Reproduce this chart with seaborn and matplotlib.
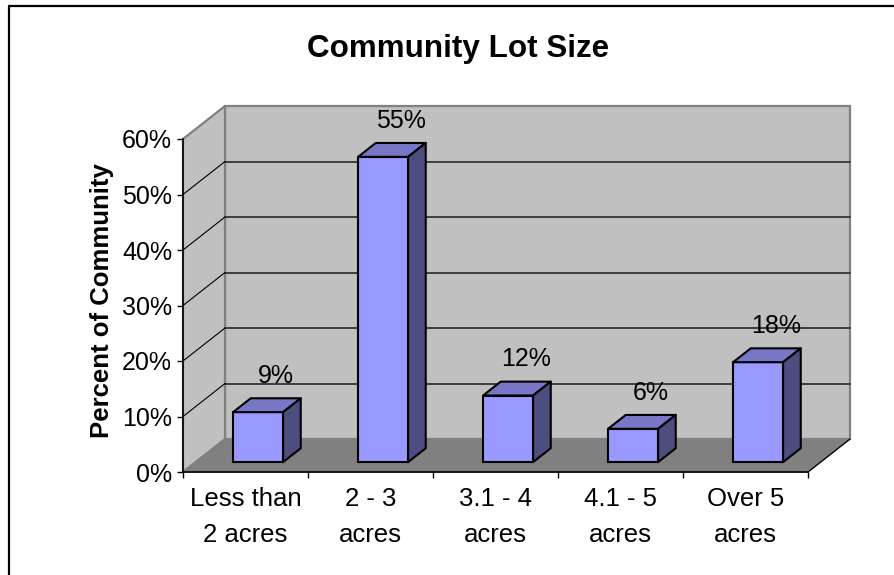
import matplotlib
matplotlib.use("Agg")
import matplotlib.pyplot as plt
import matplotlib.transforms as mtransforms
from matplotlib.patches import Polygon
from matplotlib.lines import Line2D
from matplotlib.ticker import FixedLocator
import seaborn as sns
import pandas as pd

# ---------------- data ----------------
categories = ["Less than\n2 acres", "2 - 3\nacres", "3.1 - 4\nacres", "4.1 - 5\nacres", "Over 5\nacres"]
values = [9, 55, 12, 6, 18]
value_labels = ["9%", "55%", "12%", "6%", "18%"]
yticks = [0, 10, 20, 30, 40, 50, 60]
ytick_labels = ["0%", "10%", "20%", "30%", "40%", "50%", "60%"]
title = "Community Lot Size"
ylabel = "Percent of Community"

# ---------------- style ----------------
sns.set_style("white")
plt.rcParams["font.family"] = ["Liberation Sans", "DejaVu Sans"]
plt.rcParams["text.color"] = "black"

FRONT = "#9999FF"
TOP = "#7777C6"
SIDE = "#4D4D80"
WALL = "#C0C0C0"
FLOOR = "#808080"

W, H = 894, 575
fig = plt.figure(figsize=(W / 100, H / 100), dpi=100)
# front plotting rectangle in pixels
L, R, T, B = 183, 808, 139, 472
ax = fig.add_axes([L / W, 1 - B / H, (R - L) / W, (B - T) / H])
ax.set_facecolor("none")

df = pd.DataFrame({"cat": categories, "val": values})
sns.barplot(data=df, x="cat", y="val", width=0.4, color=FRONT, saturation=1,
            edgecolor="black", linewidth=1.5, ax=ax, zorder=5)
bars = list(ax.patches)

ax.set_xlim(-0.5, len(categories) - 0.5)
ax.set_ylim(yticks[0], yticks[-1])
x0a, x1a = -0.5, len(categories) - 0.5
ymin, ymax = yticks[0], yticks[-1]

ppx = (R - L) / len(categories)
ppy = (B - T) / (ymax - ymin)
Dx = 42 / ppx     # depth vector in data units
Dy = 33 / ppy
t0, t1 = 0.30, 0.72  # bar depth placement (fraction of floor depth)

# ---------------- walls & floor ----------------
ax.add_patch(Polygon([(x0a + Dx, ymin + Dy), (x1a + Dx, ymin + Dy), (x1a + Dx, ymax + Dy), (x0a + Dx, ymax + Dy)],
                     closed=True, facecolor=WALL, edgecolor="#808080", lw=1.6, zorder=0.5, clip_on=False))
ax.add_patch(Polygon([(x0a, ymin), (x0a, ymax), (x0a + Dx, ymax + Dy), (x0a + Dx, ymin + Dy)],
                     closed=True, facecolor=WALL, edgecolor="#808080", lw=1.6, zorder=0.6, clip_on=False))
ax.add_patch(Polygon([(x0a, ymin), (x1a, ymin), (x1a + Dx, ymin + Dy), (x0a + Dx, ymin + Dy)],
                     closed=True, facecolor=FLOOR, edgecolor=FLOOR, lw=1, zorder=0.7, clip_on=False))
ax.plot([x1a, x1a + Dx], [ymin, ymin + Dy], color="black", lw=0.9, clip_on=False, zorder=0.8)

for v in yticks[1:-1]:
    ax.plot([x0a + Dx, x1a + Dx], [v + Dy, v + Dy], color="#333333", lw=1.3, clip_on=False, zorder=0.9)
    ax.plot([x0a, x0a + Dx], [v, v + Dy], color="black", lw=0.8, clip_on=False, zorder=0.9)

# ---------------- 3D bars ----------------
shift = mtransforms.Affine2D().translate(Dx * t0, Dy * t0) + ax.transData
bx, by = Dx * (t1 - t0), Dy * (t1 - t0)
for p, lbl in zip(bars, value_labels):
    x0 = p.get_x()
    w = p.get_width()
    h = p.get_height()
    p.set_transform(shift)
    ax.add_patch(Polygon([(x0, h), (x0 + w, h), (x0 + w + bx, h + by), (x0 + bx, h + by)],
                         closed=True, facecolor=TOP, edgecolor="black", lw=1.5, zorder=5,
                         transform=shift, clip_on=False, joinstyle="round"))
    ax.add_patch(Polygon([(x0 + w, 0), (x0 + w, h), (x0 + w + bx, h + by), (x0 + w + bx, by)],
                         closed=True, facecolor=SIDE, edgecolor="black", lw=1.5, zorder=5,
                         transform=shift, clip_on=False, joinstyle="round"))
    p.set_clip_on(False)
    ax.annotate(lbl, xy=(x0 + w / 2 + Dx * t1, h + Dy * t1), xytext=(0, 16),
                textcoords="offset points", ha="center", va="center", fontsize=18,
                color="black", zorder=6, annotation_clip=False)

# ---------------- axes / ticks ----------------
for s in ["top", "right"]:
    ax.spines[s].set_visible(False)
for s in ["left", "bottom"]:
    ax.spines[s].set_color("black")
    ax.spines[s].set_linewidth(1.2)
    ax.spines[s].set_zorder(1.5)

ax.set_yticks(yticks, ytick_labels)
ax.set_xticks(range(len(categories)), categories)
ax.xaxis.set_minor_locator(FixedLocator([i - 0.5 for i in range(len(categories) + 1)]))
ax.tick_params(axis="y", which="major", left=True, direction="out", length=4.3, width=1,
               color="black", pad=3.5, labelsize=18, labelcolor="black")
ax.tick_params(axis="x", which="major", bottom=True, length=0, pad=11, labelsize=18.5, labelcolor="black")
ax.tick_params(axis="x", which="minor", bottom=True, direction="out", length=4.3, width=1, color="black")
for t in ax.get_xticklabels():
    t.set_linespacing(1.62)
ax.set_xlabel("")
ax.set_ylabel("")

# ---------------- titles ----------------
fig.text(458 / W, 1 - 57 / H, title, ha="center", va="baseline", fontsize=22.6,
         fontweight="bold", color="black")
fig.text(102 / W, 1 - 301 / H, ylabel, ha="center", va="center", rotation=90,
         fontsize=18.5, fontweight="bold", color="black")

# ---------------- outer frame (left & top edges) ----------------
fig.add_artist(Line2D([8.5 / W, 8.5 / W], [0, 1 - 6 / H], transform=fig.transFigure, color="black", lw=1.6))
fig.add_artist(Line2D([8.5 / W, 1], [1 - 6 / H, 1 - 6 / H], transform=fig.transFigure, color="black", lw=1.6))

fig.savefig("out.png", dpi=100)
